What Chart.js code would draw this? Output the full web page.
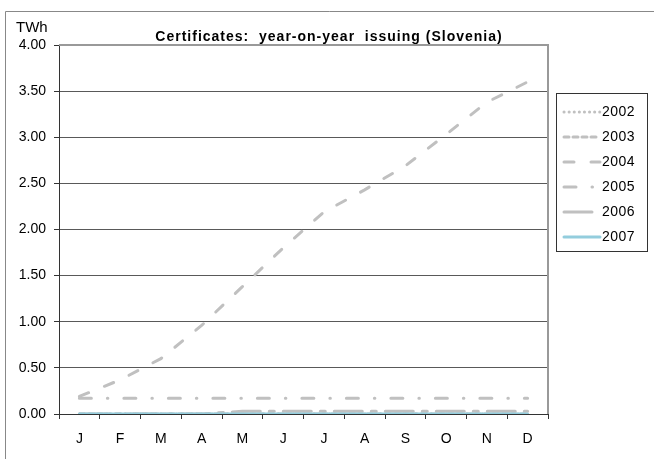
<!DOCTYPE html>
<html>
<head>
<meta charset="utf-8">
<script src="https://cdn.jsdelivr.net/npm/chart.js@4.4.1/dist/chart.umd.min.js"></script>
<style>
  html, body { margin: 0; padding: 0; background: #fff; }
  #wrap { width: 654px; height: 459px; }
</style>
</head>
<body>
<div id="wrap"><canvas id="certChart" width="654" height="459"></canvas></div>
<script>
// monthly issuing, TWh
const months = ['J', 'F', 'M', 'A', 'M', 'J', 'J', 'A', 'S', 'O', 'N', 'D'];
const years = ['2002', '2003', '2004', '2005', '2006', '2007'];
const issued2002 = [0, 0, 0, 0, 0, 0, 0, 0, 0, 0, 0, 0];
const issued2003 = [0, 0, 0, 0, 0, 0, 0, 0, 0, 0, 0, 0];
const issued2004 = [0.19, 0.37, 0.60, 0.96, 1.38, 1.80, 2.19, 2.43, 2.69, 3.03, 3.38, 3.60];
const issued2005 = [0.17, 0.17, 0.17, 0.17, 0.17, 0.17, 0.17, 0.17, 0.17, 0.17, 0.17, 0.17];
const issued2006 = [0, 0, 0, 0, 0.03, 0.03, 0.03, 0.03, 0.03, 0.03, 0.03, 0.03];
const issued2007 = [0, 0, 0, 0, 0, 0, 0, 0, 0, 0, 0, 0];
const yMin = 0;
const yMax = 4;
const yStep = 0.5;

const chartTitle = 'Certificates:  year-on-year  issuing (Slovenia)';
const unitLabel = 'TWh';

const FONT = 'Liberation Sans, Arial, sans-serif';
const GREY = '#c0c0c0';

function series(label, data, dash, color, order) {
    return {
        label: label,
        data: data,
        borderColor: color || GREY,
        backgroundColor: color || GREY,
        borderWidth: 3,
        borderDash: dash,
        borderCapStyle: 'round',
        pointRadius: 0,
        pointHoverRadius: 0,
        tension: 0,
        fill: false,
        order: order
    };
}

// frame, title, unit label, plot border and the boxed legend
const decorations = {
    id: 'decorations',
    afterDraw(chart) {
        const ctx = chart.ctx;
        const area = chart.chartArea;
        ctx.save();

        // outer frame (top and left edges)
        ctx.strokeStyle = '#888';
        ctx.lineWidth = 1;
        ctx.beginPath();
        ctx.moveTo(5.5, 459);
        ctx.lineTo(5.5, 11.5);
        ctx.lineTo(654, 11.5);
        ctx.stroke();

        // plot border top/right
        ctx.strokeStyle = '#999';
        ctx.lineWidth = 2;
        ctx.beginPath();
        ctx.moveTo(area.left, area.top);
        ctx.lineTo(area.right, area.top);
        ctx.lineTo(area.right, area.bottom);
        ctx.stroke();

        ctx.fillStyle = '#000';
        ctx.textBaseline = 'middle';

        // title
        ctx.font = 'bold 14px ' + FONT;
        ctx.letterSpacing = '1px';
        ctx.textAlign = 'center';
        ctx.fillText(chartTitle, 329, 37);
        ctx.letterSpacing = '0px';

        // unit
        ctx.font = '15px ' + FONT;
        ctx.textAlign = 'left';
        ctx.fillText(unitLabel, 16, 28);

        // legend
        ctx.font = '14px ' + FONT;
        ctx.letterSpacing = '0.5px';
        ctx.strokeStyle = '#333';
        ctx.lineWidth = 1;
        ctx.strokeRect(556.5, 93.5, 91, 158);
        chart.data.datasets.forEach((ds, i) => {
            const y = 112 + i * 25;
            ctx.save();
            ctx.strokeStyle = ds.borderColor;
            ctx.lineWidth = ds.borderWidth;
            ctx.lineCap = ds.borderCapStyle;
            ctx.setLineDash(ds.borderDash || []);
            ctx.beginPath();
            ctx.moveTo(564, y);
            ctx.lineTo(600, y);
            ctx.stroke();
            ctx.restore();
            ctx.fillText(ds.label, 602, y);
        });
        ctx.letterSpacing = '0px';
        ctx.restore();
    }
};

const ctx = document.getElementById('certChart').getContext('2d');

new Chart(ctx, {
    type: 'line',
    data: {
        labels: months,
        datasets: [
            series(years[0], issued2002, [0.1, 5], null, 1),
            series(years[1], issued2003, [5, 4], null, 1),
            series(years[2], issued2004, [10, 17], null, 1),
            series(years[3], issued2005, [12, 16, 0.5, 16], null, 1),
            series(years[4], issued2006, [28, 9, 5, 9], null, 1),
            series(years[5], issued2007, [], '#93cddd', 0)
        ]
    },
    options: {
        responsive: false,
        animation: false,
        layout: {
            padding: { left: 0, right: 106, top: 45, bottom: 0 }
        },
        plugins: {
            legend: { display: false },
            tooltip: { enabled: false },
            title: { display: false }
        },
        scales: {
            x: {
                offset: true,
                afterFit: s => { s.height = 45; },
                grid: {
                    offset: true,
                    drawOnChartArea: false,
                    drawTicks: true,
                    tickLength: 5,
                    color: '#333'
                },
                border: { color: '#333', width: 1 },
                ticks: {
                    color: '#000',
                    padding: 12,
                    font: { family: FONT, size: 14 },
                    maxRotation: 0,
                    autoSkip: false
                }
            },
            y: {
                min: yMin,
                max: yMax,
                afterFit: s => { s.width = 59; },
                grid: {
                    color: '#595959',
                    lineWidth: 1,
                    tickLength: 5,
                    tickColor: '#333'
                },
                border: { color: '#333', width: 1 },
                ticks: {
                    stepSize: yStep,
                    color: '#000',
                    padding: 8,
                    font: { family: FONT, size: 14 },
                    callback: v => v.toFixed(2)
                }
            }
        }
    },
    plugins: [decorations]
});
</script>
</body>
</html>
